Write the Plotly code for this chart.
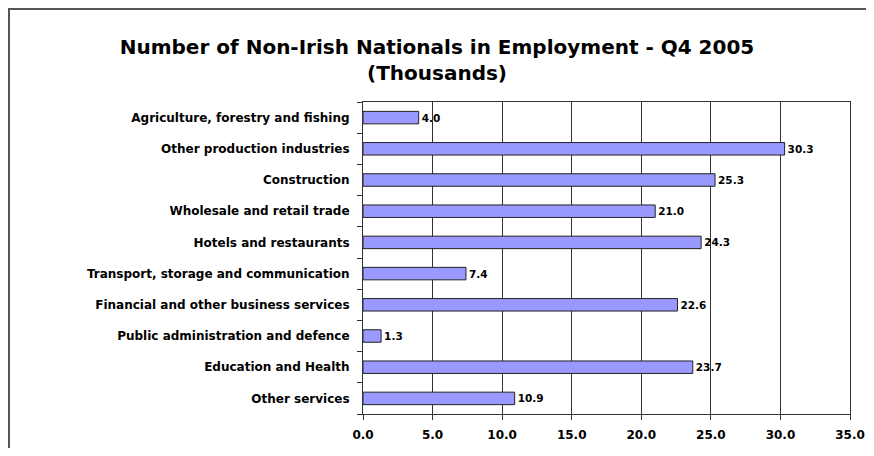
import plotly.graph_objects as go

categories = [
    "Agriculture, forestry and fishing",
    "Other production industries",
    "Construction",
    "Wholesale and retail trade",
    "Hotels and restaurants",
    "Transport, storage and communication",
    "Financial and other business services",
    "Public administration and defence",
    "Education and Health",
    "Other services",
]
values = [4.0, 30.3, 25.3, 21.0, 24.3, 7.4, 22.6, 1.3, 23.7, 10.9]
x_ticks = [0, 5, 10, 15, 20, 25, 30, 35]

FONT = "DejaVu Sans, Verdana, sans-serif"
# page body has an 8px margin; figure sized to fit the window
W, H = 858, 440
L, T = 355, 94
R = W - 842
B = H - 406
pw, ph = W - L - R, H - T - B

fig = go.Figure(go.Bar(
    y=categories, x=values, orientation="h",
    marker=dict(color="#9999FF", line=dict(color="#222222", width=1)),
    text=values, texttemplate="<b>%{x:.1f}</b>", textposition="outside",
    textfont=dict(family=FONT, size=10.5, color="black"),
    cliponaxis=False,
))

fig.update_layout(
    width=W, height=H,
    margin=dict(l=L, r=R, t=T, b=B, autoexpand=False),
    paper_bgcolor="white", plot_bgcolor="white",
    bargap=0.6,
    showlegend=False,
    font=dict(family=FONT, color="black"),
    title=dict(
        text="<b>Number of Non-Irish Nationals in Employment - Q4 2005<br>(Thousands)</b>",
        x=0.5, xref="container", xanchor="center",
        y=1 - 46 / H, yref="container", yanchor="top",
        font=dict(size=20, color="black", family=FONT),
        automargin=False,
    ),
    xaxis=dict(
        range=[0, 35], tickvals=x_ticks,
        ticktext=[f"<b>{v:.1f}</b>" for v in x_ticks],
        showgrid=True, gridcolor="#333333", gridwidth=1,
        showline=True, linecolor="#333333", linewidth=1, mirror=True,
        ticks="outside", ticklen=5, tickcolor="#333333",
        ticklabelstandoff=5,
        tickfont=dict(size=12, family=FONT),
        zeroline=False, fixedrange=True, automargin=False,
    ),
    yaxis=dict(
        autorange="reversed", type="category",
        tickvals=categories, ticktext=[f"<b>{c}</b>" for c in categories],
        showline=True, linecolor="#333333", linewidth=1, mirror=True,
        ticks="outside", ticklen=5, tickcolor="#333333", tickson="boundaries",
        ticklabelstandoff=10,
        showgrid=False,
        tickfont=dict(size=12, family=FONT),
        fixedrange=True, automargin=False,
    ),
    shapes=[dict(
        type="rect", xref="paper", yref="paper",
        x0=(1 - L) / pw, x1=(W + 20 - L) / pw,
        y0=-(H + 20 - T - ph) / ph, y1=1 + (T - 1) / ph,
        line=dict(color="#555555", width=2), fillcolor="rgba(0,0,0,0)",
        layer="below",
    )],
)

fig.write_html("out.html")
